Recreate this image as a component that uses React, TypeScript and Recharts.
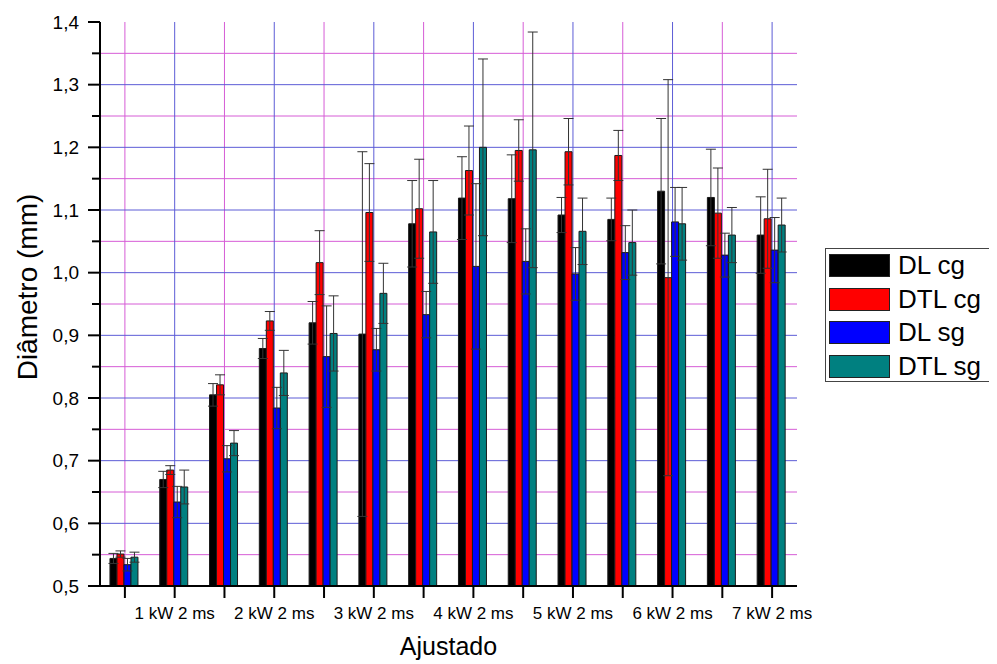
import React from 'react';
import { BarChart, Bar, XAxis, YAxis, CartesianGrid, ErrorBar, Legend } from 'recharts';

const groupKeys = ['g1', 'g2', 'g3', 'g4', 'g5', 'g6', 'g7', 'g8', 'g9', 'g10', 'g11', 'g12', 'g13', 'g14'];
const groupLabels = ['', '1 kW 2 ms', '', '2 kW 2 ms', '', '3 kW 2 ms', '', '4 kW 2 ms', '', '5 kW 2 ms', '', '6 kW 2 ms', '', '7 kW 2 ms'];

const seriesNames = ['DL cg', 'DTL cg', 'DL sg', 'DTL sg'];
const seriesColors = ['#000000', '#ff0000', '#0000ff', '#008080'];

const dlCg = [0.544, 0.670, 0.805, 0.879, 0.920, 0.902, 1.078, 1.119, 1.118, 1.092, 1.085, 1.130, 1.120, 1.060];
const dlCgErr = [0.008, 0.013, 0.018, 0.016, 0.034, 0.291, 0.069, 0.066, 0.070, 0.028, 0.034, 0.116, 0.077, 0.061];
const dtlCg = [0.551, 0.685, 0.821, 0.923, 1.016, 1.096, 1.102, 1.163, 1.195, 1.193, 1.187, 0.992, 1.095, 1.086];
const dtlCgErr = [0.005, 0.007, 0.016, 0.015, 0.051, 0.078, 0.079, 0.071, 0.049, 0.053, 0.040, 0.316, 0.072, 0.079];
const dlSg = [0.534, 0.634, 0.703, 0.784, 0.866, 0.877, 0.933, 1.010, 1.018, 0.998, 1.032, 1.081, 1.028, 1.036];
const dlSgErr = [0.010, 0.025, 0.021, 0.033, 0.081, 0.034, 0.037, 0.132, 0.052, 0.042, 0.043, 0.055, 0.035, 0.052];
const dtlSg = [0.546, 0.658, 0.728, 0.840, 0.903, 0.967, 1.065, 1.200, 1.196, 1.066, 1.048, 1.078, 1.060, 1.076];
const dtlSgErr = [0.008, 0.027, 0.020, 0.036, 0.060, 0.048, 0.082, 0.141, 0.188, 0.053, 0.052, 0.058, 0.044, 0.043];

const yTicks = [0.5, 0.55, 0.6, 0.65, 0.7, 0.75, 0.8, 0.85, 0.9, 0.95, 1.0, 1.05, 1.1, 1.15, 1.2, 1.25, 1.3, 1.35, 1.4];
const majorGridY = [0.6, 0.7, 0.8, 0.9, 1.0, 1.1, 1.2, 1.3];
const minorGridY = [0.55, 0.65, 0.75, 0.85, 0.95, 1.05, 1.15, 1.25, 1.35];

const FONT = '"Liberation Sans", Arial, sans-serif';

const data = groupKeys.map((key, i) => ({
  key,
  dlCg: dlCg[i],
  dlCgErr: dlCgErr[i],
  dtlCg: dtlCg[i],
  dtlCgErr: dtlCgErr[i],
  dlSg: dlSg[i],
  dlSgErr: dlSgErr[i],
  dtlSg: dtlSg[i],
  dtlSgErr: dtlSgErr[i],
}));

const seriesKeys = ['dlCg', 'dtlCg', 'dlSg', 'dtlSg'];
const oddKeys = groupKeys.filter((_, i) => i % 2 === 0);
const evenKeys = groupKeys.filter((_, i) => i % 2 === 1);
const labelFor = (k: string) => groupLabels[groupKeys.indexOf(k)] ?? '';

const YTick = (props: any) => {
  const { x, y, payload } = props;
  const v = Number(payload.value);
  const major = Math.round(v * 100) % 10 === 0;
  const axisX = x + 12 + 9;
  return (
    <g>
      <line x1={major ? axisX - 12 : axisX - 8} x2={axisX} y1={y} y2={y} stroke="#000" strokeWidth={2} />
      {major && (
        <text x={x} y={y} textAnchor="end" dominantBaseline="central" fontSize={19} fontFamily={FONT} fill="#000">
          {v.toFixed(1).replace('.', ',')}
        </text>
      )}
    </g>
  );
};

const YTitle = (props: any) => {
  const vb = props.viewBox || { x: 0, y: 14, width: 92, height: 564 };
  const cx = vb.x + 19;
  const cy = vb.y + vb.height / 2 - 17;
  return (
    <text x={cx} y={cy} transform={`rotate(-90, ${cx}, ${cy})`} textAnchor="middle" dominantBaseline="central" fontSize={28} fontFamily={FONT} fill="#000">
      Diâmetro (mm)
    </text>
  );
};

const XTitle = (props: any) => {
  const vb = props.viewBox || { x: 92, y: 578, width: 697, height: 50 };
  const cx = vb.x + vb.width / 2;
  return (
    <text x={cx} y={vb.y + 69} textAnchor="middle" fontSize={25} fontFamily={FONT} fill="#000">
      Ajustado
    </text>
  );
};

const LegendBox = () => (
  <div style={{ width: 167, height: 134, boxSizing: 'border-box', border: '1px solid #444', background: '#fff', position: 'relative', fontFamily: FONT }}>
    {seriesNames.map((n, i) => (
      <div key={n} style={{ position: 'absolute', left: 3, top: 4 + i * 33.7, height: 25, display: 'flex', alignItems: 'center' }}>
        <div style={{ width: 61, height: 23, boxSizing: 'border-box', background: seriesColors[i], border: '1px solid #222' }} />
        <span style={{ marginLeft: 8, fontSize: 26, lineHeight: '25px', color: '#000', whiteSpace: 'nowrap' }}>{n}</span>
      </div>
    ))}
  </div>
);

export default function App() {
  return (
    <BarChart
      width={989}
      height={656}
      data={data}
      margin={{ top: 14, right: 200, bottom: 28, left: 0 }}
      barCategoryGap="20%"
      barGap={0}
    >
      <CartesianGrid stroke="#d65cd6" strokeWidth={1} horizontalValues={minorGridY} verticalValues={oddKeys} fill="none" />
      <CartesianGrid stroke="#5c5cd6" strokeWidth={1} horizontalValues={majorGridY} verticalValues={evenKeys} fill="none" />
      <XAxis
        dataKey="key"
        interval={0}
        height={50}
        tickFormatter={labelFor}
        tickSize={12}
        tickMargin={9}
        axisLine={{ stroke: '#000', strokeWidth: 2 }}
        tickLine={{ stroke: '#000', strokeWidth: 2 }}
        tick={{ fontSize: 17, fill: '#000', fontFamily: FONT }}
        label={{ content: XTitle }}
      />
      <YAxis
        type="number"
        domain={[0.5, 1.4]}
        allowDataOverflow
        ticks={yTicks}
        interval={0}
        width={92}
        tickSize={12}
        tickMargin={9}
        tickLine={false}
        axisLine={{ stroke: '#000', strokeWidth: 2 }}
        tick={<YTick />}
        label={{ content: YTitle }}
      />
      <Legend
        layout="vertical"
        align="center"
        verticalAlign="middle"
        content={() => <LegendBox />}
        wrapperStyle={{ left: 817, top: 240, width: 167, height: 134 }}
      />
      {seriesKeys.map((k, i) => (
        <Bar key={k} dataKey={k} name={seriesNames[i]} fill={seriesColors[i]} stroke="#1a1a1a" strokeWidth={1} isAnimationActive={false}>
          <ErrorBar dataKey={`${k}Err`} width={5} stroke="#333" strokeWidth={1} direction="y" />
        </Bar>
      ))}
    </BarChart>
  );
}
